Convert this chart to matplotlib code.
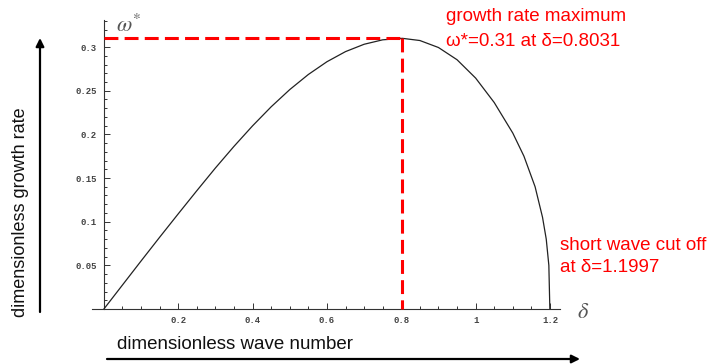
import matplotlib
matplotlib.use("Agg")
import matplotlib.pyplot as plt
from matplotlib.ticker import MultipleLocator, FixedLocator

plt.rcParams['font.family'] = ['Liberation Sans', 'DejaVu Sans']
plt.rcParams['mathtext.fontset'] = 'stix'
plt.rcParams['lines.scale_dashes'] = False

# growth rate curve
delta = [0, 0.05, 0.1, 0.15, 0.2, 0.25, 0.3, 0.35, 0.4, 0.45, 0.5, 0.55, 0.6,
         0.65, 0.7, 0.75, 0.8031, 0.85, 0.9, 0.95, 1.0, 1.05, 1.1, 1.13, 1.16,
         1.18, 1.19, 1.197, 1.1997]
omega = [0, 0.0275, 0.055, 0.0822, 0.109, 0.1355, 0.1615, 0.1863, 0.2098, 0.2316,
         0.2513, 0.2686, 0.2832, 0.2948, 0.3032, 0.3083, 0.31, 0.3075, 0.2995,
         0.2855, 0.2645, 0.2365, 0.2015, 0.175, 0.14, 0.105, 0.08, 0.05, 0]

d_max = 0.8031
w_max = 0.31

xticks = [0.2, 0.4, 0.6, 0.8, 1.0, 1.2]
xticklabels = ['0.2', '0.4', '0.6', '0.8', '1', '1.2']
yticks = [0.05, 0.1, 0.15, 0.2, 0.25, 0.3]
yticklabels = ['0.05', '0.1', '0.15', '0.2', '0.25', '0.3']

W, H = 713, 364
fig = plt.figure(figsize=(W / 100, H / 100), dpi=100)


def fx(px):
    return px / W


def fy(py):
    return 1 - py / H


ax = fig.add_axes([fx(92), fy(309), (560 - 92) / W, (309 - 20) / H])
ax.set_xlim(-0.032, 1.227)
ax.set_ylim(0, 0.331)
ax.patch.set_alpha(0)

for s in ['top', 'right']:
    ax.spines[s].set_visible(False)
ax.spines['left'].set_position(('data', 0))
for s in ['left', 'bottom']:
    ax.spines[s].set_color('#333333')
    ax.spines[s].set_linewidth(0.8)

ax.xaxis.set_major_locator(FixedLocator(xticks))
ax.set_xticklabels(xticklabels)
ax.xaxis.set_minor_locator(MultipleLocator(0.05))
ax.yaxis.set_major_locator(FixedLocator(yticks))
ax.set_yticklabels(yticklabels)
ax.yaxis.set_minor_locator(MultipleLocator(0.01))

ax.tick_params(which='both', direction='in', color='#333333', width=0.7)
ax.tick_params(which='major', length=4, labelsize=6.5, labelcolor='#444444', pad=5)
ax.tick_params(which='minor', length=2.2)
for lab in ax.get_xticklabels() + ax.get_yticklabels():
    lab.set_family('Liberation Mono')
    lab.set_weight('bold')

ax.plot(delta, omega, color='#222222', lw=0.9, zorder=3)

# dashed markers for the maximum
ax.plot([0, d_max], [w_max, w_max], color='#ff0000', lw=2.2,
        dashes=(10, 4.5), zorder=4, clip_on=False)
ax.plot([d_max, d_max], [w_max, 0], color='#ff0000', lw=2.2,
        dashes=(10, 4.5), zorder=4, clip_on=False)

# axis symbols
fig.text(fx(116), fy(32), r'$\omega^{*}$', color='#555555', fontsize=16, va='baseline')
fig.text(fx(577), fy(318), r'$\delta$', color='#555555', fontsize=16, va='baseline')

# red notes
fig.text(fx(446), fy(21), 'growth rate maximum', color='#ff0000', fontsize=13.5, va='baseline')
fig.text(fx(446), fy(46), 'ω*=0.31 at δ=0.8031', color='#ff0000', fontsize=13.5, va='baseline')
fig.text(fx(560), fy(250), 'short wave cut off', color='#ff0000', fontsize=13.5, va='baseline')
fig.text(fx(560), fy(272), 'at δ=1.1997', color='#ff0000', fontsize=13.5, va='baseline')

# axis titles with arrows
fig.text(fx(235), fy(349), 'dimensionless wave number', fontsize=13.5,
         ha='center', va='baseline', color='#111111')
fig.text(fx(21), fy(212), 'dimensionless growth rate', fontsize=13,
         rotation=90, ha='center', va='center', color='#111111')

arw = dict(arrowstyle='-|>', color='black', lw=1.6, mutation_scale=12,
           shrinkA=0, shrinkB=0)
fig.add_artist(matplotlib.patches.FancyArrowPatch(
    (fx(107), fy(359)), (fx(580), fy(359)), transform=fig.transFigure, **arw))
fig.add_artist(matplotlib.patches.FancyArrowPatch(
    (fx(40), fy(312)), (fx(40), fy(38)), transform=fig.transFigure, **arw))

fig.savefig('out.png', dpi=100)
